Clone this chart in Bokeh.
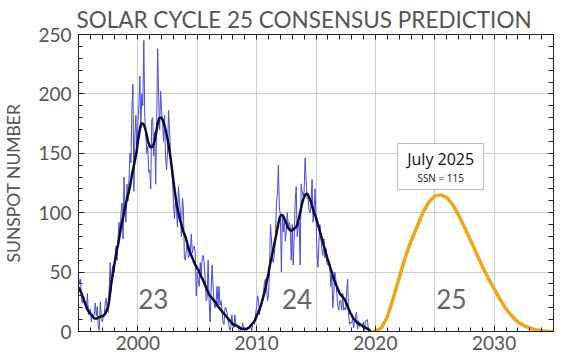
import numpy as np
from bokeh.plotting import figure
from bokeh.models import FixedTicker, LinearAxis, Label, BoxAnnotation, Range1d
from bokeh.embed import file_html
from bokeh.resources import INLINE

# ---------------- data ----------------
start_year = 1995  # first month of the monthly series (Jan 1995)

monthly_ssn = [
    46, 40, 44, 27, 24, 30, 25, 22, 18, 32, 14, 17,          # 1995
    19, 8, 15, 13, 14, 24, 13, 21, 4, 1, 25, 14,             # 1996
    8, 12, 14, 24, 28, 19, 16, 36, 58, 34, 52, 56,           # 1997
    50, 62, 72, 60, 80, 92, 82, 100, 108, 78, 130, 102,      # 1998
    92, 124, 110, 128, 150, 142, 188, 208, 118, 165, 182, 150,  # 1999
    176, 190, 215, 172, 200, 190, 245, 180, 166, 150, 156, 134,  # 2000
    136, 120, 178, 180, 148, 168, 124, 176, 238, 196, 170, 202,  # 2001
    185, 175, 160, 182, 146, 136, 152, 186, 170, 150, 138, 128,  # 2002
    108, 95, 110, 102, 88, 122, 110, 100, 80, 112, 104, 62,  # 2003
    60, 68, 76, 62, 64, 68, 82, 66, 70, 72, 66, 30,          # 2004
    50, 42, 38, 58, 48, 62, 64, 58, 44, 26, 28, 60,          # 2005
    26, 8, 34, 56, 38, 24, 20, 24, 38, 22, 38, 22,           # 2006
    26, 18, 8, 6, 20, 20, 16, 10, 5, 1, 4, 14,               # 2007
    5, 3, 14, 6, 4, 5, 1, 0, 2, 3, 7, 2,                     # 2008
    2, 2, 1, 2, 4, 5, 5, 0, 6, 7, 6, 16,                     # 2009
    20, 30, 26, 14, 22, 24, 26, 34, 42, 44, 38, 26,          # 2010
    30, 50, 90, 78, 60, 58, 66, 78, 108, 116, 140, 104,      # 2011
    98, 50, 96, 84, 96, 76, 84, 100, 86, 92, 88, 60,         # 2012
    90, 56, 80, 110, 122, 80, 88, 92, 56, 124, 118, 114,     # 2013
    118, 146, 128, 112, 112, 102, 100, 106, 128, 92, 100, 120,  # 2014
    96, 66, 54, 76, 90, 78, 68, 64, 78, 62, 70, 58,          # 2015
    56, 58, 54, 38, 50, 20, 32, 50, 44, 32, 22, 18,          # 2016
    26, 26, 18, 32, 18, 20, 18, 34, 44, 14, 6, 8,            # 2017
    7, 11, 3, 9, 13, 16, 2, 9, 4, 5, 6, 3,                   # 2018
    8, 1, 9, 9, 10, 1, 1, 0,                                 # 2019
]

smoothed_ssn = [
    37, 36, 34, 32, 30, 28, 25, 23, 21, 19, 17, 16,          # 1995
    15, 14, 13, 12, 11, 11, 11, 11, 12, 12, 12, 13,          # 1996
    13, 13, 14, 15, 17, 19, 21, 26, 33, 40, 45, 50,          # 1997
    55, 60, 65, 70, 73, 78, 83, 88, 92, 96, 100, 104,        # 1998
    108, 112, 115, 118, 122, 127, 132, 136, 140, 144, 148, 153,  # 1999
    160, 165, 170, 174, 175, 175, 174, 172, 169, 165, 161, 158,  # 2000
    156, 155, 155, 156, 158, 161, 165, 170, 175, 178, 180, 180,  # 2001
    180, 178, 176, 173, 170, 166, 162, 157, 152, 146, 140, 133,  # 2002
    126, 120, 114, 108, 104, 100, 96, 93, 90, 87, 84, 82,    # 2003
    80, 77, 74, 71, 68, 66, 64, 62, 60, 58, 56, 55,          # 2004
    53, 52, 50, 48, 46, 45, 43, 41, 39, 37, 35, 33,          # 2005
    31, 30, 29, 28, 27, 26, 25, 24, 22, 21, 20, 19,          # 2006
    18, 17, 16, 15, 14, 13, 12, 11, 10, 9, 8, 7,             # 2007
    6, 6, 5, 5, 5, 4, 4, 3, 3, 2, 2, 2,                      # 2008
    2, 2, 2, 3, 3, 4, 5, 6, 7, 8, 9, 11,                     # 2009
    13, 15, 17, 19, 21, 24, 27, 30, 33, 37, 41, 45,          # 2010
    49, 54, 58, 62, 66, 70, 74, 78, 82, 87, 91, 95,          # 2011
    97, 98, 98, 97, 95, 93, 91, 89, 87, 86, 85, 85,          # 2012
    85, 86, 87, 87, 88, 90, 93, 96, 100, 104, 108, 111,      # 2013
    113, 115, 116, 116, 115, 113, 111, 109, 106, 103, 100, 98,  # 2014
    96, 93, 90, 87, 84, 81, 78, 75, 72, 69, 66, 63,          # 2015
    60, 58, 55, 52, 50, 47, 44, 42, 40, 38, 36, 34,          # 2016
    32, 31, 30, 29, 28, 27, 25, 23, 21, 19, 17, 15,          # 2017
    14, 12, 11, 10, 9, 8, 7, 7, 6, 6, 5, 5,                  # 2018
    4, 4, 3, 3, 2, 2, 1, 0,                                  # 2019
]

pred_years = [2019.8, 2020.0, 2020.5, 2021.0, 2021.5, 2022.0, 2022.5, 2023.0, 2023.5,
              2024.0, 2024.5, 2025.0, 2025.5, 2026.0, 2026.5, 2027.0, 2027.5, 2028.0,
              2028.5, 2029.0, 2029.5, 2030.0, 2030.5, 2031.0, 2031.5, 2032.0, 2032.5,
              2033.0, 2033.5, 2034.0, 2034.5, 2035.0]
pred_ssn = [0, 0.3, 3, 12, 28, 45, 62, 76, 88,
            100, 109, 114, 115, 113, 107, 98, 88, 77,
            66, 55, 45, 36, 27, 19, 13, 8, 5,
            3, 1.5, 0.7, 0.3, 0]

x_ticks = [2000, 2010, 2020, 2030]
x_minor = list(range(1995, 2036))
x_grid = [2000, 2005, 2010, 2015, 2020, 2025, 2030]
y_ticks = [0, 50, 100, 150, 200, 250]
y_minor = list(range(0, 251, 10))
y_grid = [50, 100, 150, 200]

cycle_names = ["23", "24", "25"]
cycle_x = [2001.3, 2013.4, 2026.4]

peak_title = "July 2025"
peak_text = "SSN = 115"

title_text = "SOLAR CYCLE 25 CONSENSUS PREDICTION"
y_label = "SUNSPOT NUMBER"

# ---------------- figure ----------------
month_years = [start_year + i / 12 for i in range(len(monthly_ssn))]
smooth_years = [start_year + i / 12 for i in range(len(smoothed_ssn))]

FONT = "Lato"
GRAY = "#555555"
DARK = "#222222"

p = figure(width=564, height=358, x_range=Range1d(1995, 2035), y_range=Range1d(0, 250),
           output_backend="svg", toolbar_location=None,
           min_border_left=72, min_border_right=11, min_border_top=34, min_border_bottom=27)
p.background_fill_color = "white"
p.border_fill_color = "white"
p.outline_line_color = DARK

p.title.text = title_text
p.title.text_font = FONT
p.title.text_font_size = "22.5px"
p.title.text_font_style = "normal"
p.title.text_color = GRAY
p.title.align = "left"
p.title.offset = -2
p.title.standoff = 3

xa = p.xaxis[0]
xa.ticker = FixedTicker(ticks=x_ticks, minor_ticks=x_minor)
ya = p.yaxis[0]
ya.ticker = FixedTicker(ticks=y_ticks, minor_ticks=y_minor)
for ax in (xa, ya):
    ax.axis_line_color = DARK
    ax.major_tick_line_color = DARK
    ax.minor_tick_line_color = DARK
    ax.major_tick_in = 6
    ax.major_tick_out = 0
    ax.minor_tick_in = 4
    ax.minor_tick_out = 0
    ax.major_label_text_font = FONT
    ax.major_label_text_font_size = "19px"
    ax.major_label_text_color = GRAY
xa.major_label_standoff = 4
ya.major_label_standoff = 7
ya.axis_label = y_label
ya.axis_label_text_font = FONT
ya.axis_label_text_font_size = "17.5px"
ya.axis_label_text_font_style = "normal"
ya.axis_label_text_color = GRAY
ya.axis_label_standoff = 11

# mirrored tick marks on top and right (no labels)
for loc, minor in (("above", x_minor), ("right", y_minor)):
    ax = LinearAxis(ticker=FixedTicker(ticks=[], minor_ticks=minor))
    ax.axis_line_color = DARK
    ax.minor_tick_line_color = DARK
    ax.minor_tick_in = 5
    ax.minor_tick_out = 0
    ax.major_tick_out = 0
    ax.major_label_standoff = 0
    p.add_layout(ax, loc)

p.xgrid.ticker = FixedTicker(ticks=x_grid)
p.ygrid.ticker = FixedTicker(ticks=y_grid)
for g in (p.xgrid[0], p.ygrid[0]):
    g.grid_line_color = "#cfcfcf"
    g.grid_line_width = 1

# cycle numbers
for name, cx in zip(cycle_names, cycle_x):
    p.add_layout(Label(x=cx, y=27, text=name, text_align="center", text_baseline="middle",
                       text_font=FONT, text_font_size="26px", text_color="#666666"))

# data
p.line(month_years, monthly_ssn, line_color="#4a4ae0", line_width=1)
p.line(smooth_years, smoothed_ssn, line_color="#0b0b3a", line_width=2.5)
p.line(pred_years, pred_ssn, line_color="#f2a516", line_width=3.5)

# annotation box
p.add_layout(BoxAnnotation(left=2021.87, right=2029.1, bottom=119.5, top=158.2,
                           fill_color="white", fill_alpha=1.0,
                           line_color=DARK, line_width=1, level="overlay"))
p.add_layout(Label(x=2025.5, y=145.5, text=peak_title, text_align="center", text_baseline="middle",
                   text_font="Open Sans", text_font_size="16px", text_color="#111111", level="overlay"))
p.add_layout(Label(x=2025.5, y=129, text=peak_text, text_align="center", text_baseline="middle",
                   text_font="Open Sans", text_font_size="10px", text_color="#111111", level="overlay"))

open("out.html", "w").write(file_html(p, INLINE))
